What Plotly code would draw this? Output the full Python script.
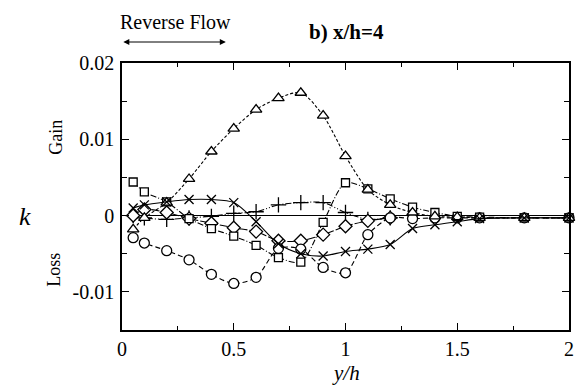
import plotly.graph_objects as go

# ---- data ----
x_full = [0.05, 0.1, 0.2, 0.3, 0.4, 0.5, 0.6, 0.7, 0.8, 0.9, 1.0, 1.1, 1.2, 1.3, 1.4, 1.5, 1.6, 1.8, 2.0]
x_short = [0.05, 0.1, 0.2, 0.3, 0.4, 0.5, 0.6, 0.7, 0.8, 0.9, 1.0, 1.1, 1.2]

k_triangle = [-0.0018, -0.0003, 0.0017, 0.0048, 0.0084, 0.0114, 0.0139, 0.0154, 0.0161, 0.0131,
              0.0078, 0.0034, 0.0014, 0.0004, -0.0001, -0.0002, -0.0003, -0.0003, -0.0003]
k_square = [0.0044, 0.0031, 0.0018, -0.0004, -0.0017, -0.0027, -0.0039, -0.0055, -0.0061, -0.0009,
            0.0043, 0.0035, 0.0022, 0.0011, 0.0004, -0.0001, -0.0002, -0.0003, -0.0003]
k_cross = [0.0010, 0.0014, 0.0018, 0.0021, 0.0021, 0.0017, -0.0008, -0.0037, -0.0050, -0.0053,
           -0.0047, -0.0044, -0.0038, -0.0017, -0.0012, -0.0008, -0.0004, -0.0003, -0.0003]
k_plus = [0.0000, -0.0003, -0.0005, -0.0003, -0.0001, 0.0003, 0.0005, 0.0014, 0.0017, 0.0017,
          0.0004, -0.0005, -0.0003]
k_diamond = [0.0000, 0.0008, 0.0004, -0.0004, -0.0010, -0.0016, -0.0021, -0.0033, -0.0033, -0.0025,
             -0.0014, -0.0007, -0.0003]
k_circle = [-0.0029, -0.0036, -0.0046, -0.0058, -0.0077, -0.0089, -0.0081, -0.0043, -0.0044, -0.0068,
            -0.0075, -0.0025, -0.0003, -0.0004, -0.0003, -0.0003, -0.0003, -0.0003, -0.0003]

x_ticks = [0, 0.5, 1, 1.5, 2]
x_ticktext = ["0", "0.5", "1", "1.5", "2"]
y_ticks = [-0.01, 0, 0.01, 0.02]
y_ticktext = ["-0.01", "0", "0.01", "0.02"]

SERIF = "Liberation Serif"

fig = go.Figure()

def add(xs, ys, symbol, size, dash):
    fig.add_trace(go.Scatter(
        x=xs, y=ys, mode="lines+markers",
        line=dict(color="black", width=1.1, dash=dash, shape="spline", smoothing=0.8),
        marker=dict(symbol=symbol, size=size, color="white",
                    line=dict(color="black", width=1.3)),
        showlegend=False, cliponaxis=False,
    ))

add(x_short, k_plus, "cross-thin", 11, "6px,2px,1px,2px,1px,2px")
add(x_short, k_diamond, "diamond", 10, "8px,2px")
add(x_full, k_circle, "circle", 10, "5px,3px")
add(x_full, k_square, "square", 8, "6px,2px,1px,2px")
add(x_full, k_triangle, "triangle-up", 10, "3px,2px")
add(x_full, k_cross, "x-thin", 9, "solid")

axis_common = dict(
    showline=True, linecolor="black", linewidth=1.6, mirror="ticks",
    ticks="inside", ticklen=7, tickwidth=1.3, tickcolor="black",
    showgrid=False,
    tickfont=dict(family=SERIF, size=20, color="black"),
)

fig.update_xaxes(range=[0, 2], tickvals=x_ticks, ticktext=x_ticktext,
                 minor=dict(dtick=0.25, ticks="inside", ticklen=4, tickcolor="black", tickwidth=1.2),
                 zeroline=False, ticklabelstandoff=0, **axis_common)
fig.update_yaxes(range=[-0.015, 0.02], tickvals=y_ticks, ticktext=y_ticktext,
                 minor=dict(dtick=0.005, ticks="inside", ticklen=5, tickcolor="black", tickwidth=1.2),
                 zeroline=True, zerolinecolor="black", zerolinewidth=1.2,
                 ticklabelstandoff=2, **axis_common)

L, R, T, B = 122, 10, 63, 55
W, H = 584, 385
pw, ph = W - L - R, H - T - B

def px(xp):
    return (xp - L) / pw

def py(yp):
    return (H - B - yp) / ph

annotations = [
    dict(x=px(176), y=py(22), text="Reverse Flow", font=dict(family=SERIF, size=20, color="black")),
    dict(x=px(349), y=py(32), text="<b>b) x/h=4</b>", font=dict(family=SERIF, size=21, color="black")),
    dict(x=px(55), y=py(137), text="Gain", textangle=-90, font=dict(family=SERIF, size=18, color="black")),
    dict(x=px(53), y=py(270), text="Loss", textangle=-90, font=dict(family=SERIF, size=18, color="black")),
    dict(x=px(24), y=py(216), text="<i>k</i>", font=dict(family=SERIF, size=26, color="black")),
    dict(x=px(349), y=py(373), text="<i>y/h</i>", font=dict(family=SERIF, size=21, color="black")),
]
for a in annotations:
    a.update(xref="paper", yref="paper", showarrow=False, xanchor="center", yanchor="middle")

# double-headed arrow under "Reverse Flow"
annotations.append(dict(
    xref="paper", yref="paper", x=px(227), y=py(42), ax=-104, ay=0,
    text="", showarrow=True, arrowhead=2, startarrowhead=2, arrowside="end+start",
    arrowsize=1.2, startarrowsize=1.2, arrowwidth=1, arrowcolor="black",
))

fig.update_layout(
    width=W, height=H,
    margin=dict(l=L, r=R, t=T, b=B),
    paper_bgcolor="white", plot_bgcolor="white",
    font=dict(family=SERIF, color="black"),
    annotations=annotations,
)

fig.write_html("out.html")
